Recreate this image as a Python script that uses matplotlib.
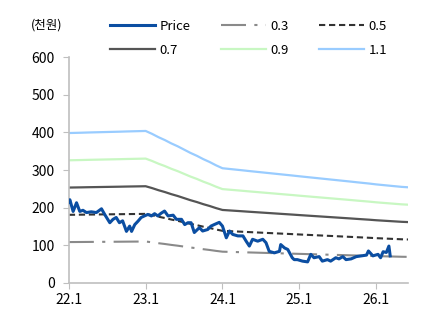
import matplotlib.pyplot as plt

plt.rcParams['font.family'] = ['Noto Sans CJK KR', 'DejaVu Sans']

# miesiące od 2022.01 (0 = 22.1)
tick_pos = [0, 12, 24, 36, 48]
tick_labels = ['22.1', '23.1', '24.1', '25.1', '26.1']

# BPS miesięcznie (tys. won), 22.1 ... 26.6
bps = [362, 362.4, 362.8, 363.3, 363.7, 364.1, 364.5, 364.9, 365.3, 365.8, 366.2, 366.6, 367,
       360, 352, 345, 337, 330, 322, 314, 307, 299, 292, 284, 277,
       275.4, 273.8, 272.2, 270.5, 268.9, 267.3, 265.7, 264.1, 262.5, 260.9, 259.3, 257.6,
       256, 254.4, 252.8, 251.2, 249.6, 248, 246.4, 244.8, 243.1, 241.5, 239.9, 238,
       236.5, 235, 233.5, 232, 231]
multiples = [0.3, 0.5, 0.7, 0.9, 1.1]

price_m = [0, 0.16, 0.67, 1.2, 1.71, 2.2, 2.75, 3.5, 4.3, 5.1, 5.6, 6.4, 6.9, 7.4, 7.9, 8.4,
           9.0, 9.5, 9.8, 10.3, 10.8, 11.3, 11.8, 12.35, 12.9, 13.4, 13.9, 14.4, 14.95, 15.5,
           16.3, 16.8, 17.6, 18.1, 18.6, 19.1, 19.6, 20.4, 20.9, 21.7, 22.2, 22.7, 23.5, 24.0,
           24.6, 25.1, 25.6, 26.4, 27.2, 27.7, 28.2, 28.7, 29.5, 30.3, 30.8, 31.3, 32.1, 32.9,
           33.1, 33.7, 34.2, 34.9, 35.2, 35.7, 36.5, 37.3, 37.8, 38.3, 39.1, 39.6, 40.4, 40.9,
           41.7, 42.2, 42.8, 43.3, 44.1, 44.9, 45.7, 46.5, 46.8, 47.5, 48.3, 48.7, 49.1, 49.6,
           50.0, 50.2]
price = [215, 221, 190, 213, 190, 193, 187, 189, 187, 197, 182, 160, 169, 174, 160, 165,
         137, 151, 137, 155, 164, 174, 178, 182, 178, 184, 178, 185, 191, 178,
         180, 169, 169, 155, 160, 160, 134, 147, 138, 142, 151, 155, 161, 151,
         120, 138, 129, 125, 125, 111, 98, 116, 111, 116, 107, 84, 80, 84,
         102, 93, 89, 67, 62, 62, 58, 56, 76, 67, 70, 58, 62, 58,
         67, 64, 70, 62, 64, 70, 72, 74, 85, 72, 76, 67, 83, 81,
         98, 72]

fig = plt.figure(figsize=(4.47, 3.26), dpi=100)
ax = fig.add_axes([0.154, 0.132, 0.759, 0.693])

months = list(range(len(bps)))
styles = {
    0.3: dict(color='#8a8a8a', linestyle=(0, (12, 4, 1.5, 4)), linewidth=1.5),
    0.5: dict(color='#333333', linestyle=(0, (3, 1.8)), linewidth=1.5),
    0.7: dict(color='#555555', linestyle='-', linewidth=1.6),
    0.9: dict(color='#c8f7c2', linestyle='-', linewidth=1.6),
    1.1: dict(color='#99ccff', linestyle='-', linewidth=1.6),
}

h_price, = ax.plot(price_m, price, color='#0b4ea2', linewidth=2.2, label='Price', zorder=5)
handles = {}
for k in multiples:
    band = [b * k for b in bps]
    handles[k], = ax.plot(months, band, label=str(k), **styles[k])

# legenda wypełniana kolumnami -> kolejność tak, by wiersze były: Price 0.3 0.5 / 0.7 0.9 1.1
order = [h_price, handles[0.7], handles[0.3], handles[0.9], handles[0.5], handles[1.1]]
fig.legend(order, [h.get_label() for h in order], ncol=3, loc='upper left',
           bbox_to_anchor=(0.232, 0.96), frameon=False, fontsize=9.5, borderpad=0,
           handlelength=3.4, handletextpad=0.35, columnspacing=2.3, labelspacing=0.85)

ax.set_xlim(0, 53)
ax.set_ylim(0, 600)
ax.set_yticks(range(0, 601, 100))
ax.set_xticks(tick_pos)
ax.set_xticklabels(tick_labels)
for s in ['top', 'right']:
    ax.spines[s].set_visible(False)
for s in ['left', 'bottom']:
    ax.spines[s].set_color('#bfbfbf')
    ax.spines[s].set_linewidth(1.2)
ax.tick_params(axis='both', colors='#bfbfbf', labelcolor='black', labelsize=10, length=4)
ax.tick_params(axis='y', pad=6)

fig.text(0.07, 0.923, '(천원)', fontsize=9, ha='left', va='center')

fig.savefig('out.png', dpi=100)
